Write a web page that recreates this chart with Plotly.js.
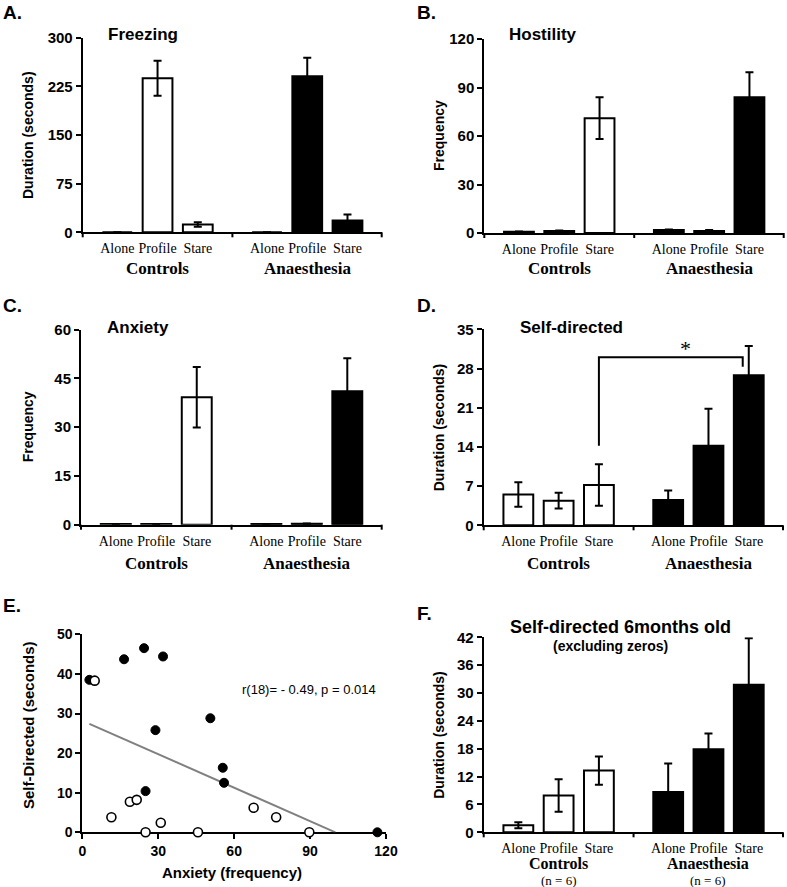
<!DOCTYPE html>
<html><head><meta charset="utf-8">
<script src="https://cdn.plot.ly/plotly-3.0.1.min.js"></script>
<style>html,body{margin:0;padding:0;background:#fff}#chart{width:787px;height:887px}</style>
</head><body><div id="chart"></div>
<script>
// ---------- data ----------
const categories = ['Alone', 'Profile', 'Stare'];
const groups = ['Controls', 'Anaesthesia'];

const freezeControls = [0, 237.5, 12];
const freezeControlsErr = [0, 27, 3.5];
const freezeAnaesthesia = [0, 240.5, 18];
const freezeAnaesthesiaErr = [0, 28.5, 9.5];

const hostilityControls = [0.8, 1.3, 71];
const hostilityControlsErr = [0.2, 0.3, 12.9];
const hostilityAnaesthesia = [1.8, 1.3, 84];
const hostilityAnaesthesiaErr = [0.3, 0.5, 15.5];

const anxietyControls = [0.2, 0.2, 39.2];
const anxietyControlsErr = [0, 0, 9.3];
const anxietyAnaesthesia = [0.2, 0.3, 41.1];
const anxietyAnaesthesiaErr = [0, 0.1, 10.1];

const selfControls = [5.5, 4.4, 7.2];
const selfControlsErr = [2.2, 1.4, 3.7];
const selfAnaesthesia = [4.5, 14.2, 26.8];
const selfAnaesthesiaErr = [1.7, 6.6, 5.2];

const self6Controls = [1.5, 7.9, 13.3];
const self6ControlsErr = [0.65, 3.5, 3.05];
const self6Anaesthesia = [8.7, 17.9, 31.8];
const self6AnaesthesiaErr = [6.1, 3.4, 10.0];

const anxietyFilled = [2.8, 16.5, 24.4, 31.9, 28.9, 50.6, 55.5, 56.0, 25.0, 116.6];
const selfDirectedFilled = [38.5, 43.7, 46.5, 44.4, 25.8, 28.8, 16.3, 12.5, 10.4, 0];
const anxietyOpen = [4.9, 11.5, 18.8, 21.5, 25.0, 31.0, 45.7, 67.7, 76.6, 89.7];
const selfDirectedOpen = [38.3, 3.8, 7.7, 8.2, 0, 2.4, 0, 6.2, 3.8, 0];
const trendAnxiety = [2.8, 100];
const trendSelfDirected = [27.4, 0];

// ---------- layout helpers ----------
const W = 787, H = 887;
const px = x => x / W;
const py = y => 1 - y / H;
const SANS = 'Liberation Sans, Arial, sans-serif';
const SERIF = 'Liberation Serif, Times New Roman, serif';
const GAP = 1.72;
const posCtrl = categories.map((c, i) => i);
const posAnae = categories.map((c, i) => i + 2 + GAP);
const XR = [-0.86, 6.57];
const divider = (2 + 2 + GAP) / 2;

const panels = [
  {id: '', x: [82.7, 381.7], y: [37.7, 232.3], max: 300, dt: 75, c: freezeControls, ce: freezeControlsErr, a: freezeAnaesthesia, ae: freezeAnaesthesiaErr,
   letter: 'A.', lx: 2, ly: 13, title: 'Freezing', tx: 107, ty: 35, ytitle: 'Duration (seconds)', ytx: 28, catY: 268, gs: 17},
  {id: '2', x: [484.3, 783.7], y: [39, 233], max: 120, dt: 30, c: hostilityControls, ce: hostilityControlsErr, a: hostilityAnaesthesia, ae: hostilityAnaesthesiaErr,
   letter: 'B.', lx: 416, ly: 13, title: 'Hostility', tx: 508, ty: 35, ytitle: 'Frequency', ytx: 439, catY: 268, gs: 17},
  {id: '3', x: [81, 381.7], y: [329.7, 524.7], max: 60, dt: 15, c: anxietyControls, ce: anxietyControlsErr, a: anxietyAnaesthesia, ae: anxietyAnaesthesiaErr,
   letter: 'C.', lx: 2, ly: 305, title: 'Anxiety', tx: 106, ty: 327, ytitle: 'Frequency', ytx: 28, catY: 563, gs: 17},
  {id: '4', x: [483.7, 783], y: [329.3, 525.3], max: 35, dt: 7, c: selfControls, ce: selfControlsErr, a: selfAnaesthesia, ae: selfAnaesthesiaErr,
   letter: 'D.', lx: 416, ly: 305, title: 'Self-directed', tx: 519, ty: 327, ytitle: 'Duration (seconds)', ytx: 439, catY: 563, gs: 17},
  {id: '6', x: [483.7, 783], y: [637.3, 832.3], max: 42, dt: 6, c: self6Controls, ce: self6ControlsErr, a: self6Anaesthesia, ae: self6AnaesthesiaErr,
   letter: 'F.', lx: 416, ly: 613, title: null, ytitle: 'Duration (seconds)', ytx: 439, catY: 863, gs: 16}
];

const traces = [];
const layout = {
  width: W, height: H, margin: {l: 0, r: 0, t: 0, b: 0},
  paper_bgcolor: '#fff', plot_bgcolor: 'rgba(0,0,0,0)', showlegend: false,
  font: {family: SANS, color: '#000'},
  annotations: [], shapes: []
};

function ann(text, x, y, font, extra) {
  layout.annotations.push(Object.assign({text, xref: 'paper', yref: 'paper', x: px(x), y: py(y),
    showarrow: false, font, xanchor: 'left', yanchor: 'middle', borderpad: 0}, extra || {}));
}
function vline(xp, y0, y1, w) {
  layout.shapes.push({type: 'line', xref: 'paper', yref: 'paper', x0: px(xp), x1: px(xp), y0: py(y0), y1: py(y1), line: {color: '#000', width: w || 2}});
}

panels.forEach(p => {
  const xa = 'x' + p.id, ya = 'y' + p.id;
  const err = (arr) => ({type: 'data', array: arr, visible: true, color: '#000', thickness: 2, width: 4});
  traces.push({type: 'bar', x: posCtrl, y: p.c, error_y: err(p.ce), xaxis: xa, yaxis: ya, width: 0.74,
    marker: {color: '#fff', line: {color: '#000', width: 2}}, name: groups[0]});
  traces.push({type: 'bar', x: posAnae, y: p.a, error_y: err(p.ae), xaxis: xa, yaxis: ya, width: 0.74,
    marker: {color: '#000', line: {color: '#000', width: 2}}, name: groups[1]});
  layout['xaxis' + p.id] = {domain: [px(p.x[0]), px(p.x[1])], anchor: ya, range: XR, fixedrange: true,
    tickvals: posCtrl.concat(posAnae), ticktext: categories.concat(categories), ticks: '',
    tickfont: {family: SERIF, size: 14, color: '#000'}, showline: true, linecolor: '#000', linewidth: 2,
    showgrid: false, zeroline: false, ticklabelstandoff: 2};
  layout['yaxis' + p.id] = {domain: [py(p.y[1]), py(p.y[0])], anchor: xa, range: [0, p.max], dtick: p.dt, fixedrange: true,
    ticks: 'outside', ticklen: 5, tickwidth: 2, tickcolor: '#000', showline: true, linecolor: '#000', linewidth: 2,
    showgrid: false, zeroline: false, tickfont: {family: SANS, size: 15, color: '#000', weight: 'bold'}};
  // tick marks on category axis
  const axY = p.y[1];
  [p.x[0], p.x[0] + (divider - XR[0]) / (XR[1] - XR[0]) * (p.x[1] - p.x[0]), p.x[1]].forEach(xx => vline(xx, axY, axY + 5, 2));
  // group labels
  const toPx = v => p.x[0] + (v - XR[0]) / (XR[1] - XR[0]) * (p.x[1] - p.x[0]);
  ann('<b>' + groups[0] + '</b>', toPx(1), p.catY, {family: SERIF, size: p.gs, color: '#000'}, {xanchor: 'center'});
  ann('<b>' + groups[1] + '</b>', toPx(3 + GAP), p.catY, {family: SERIF, size: p.gs, color: '#000'}, {xanchor: 'center'});
  ann('<b>' + p.letter + '</b>', p.lx, p.ly, {family: SANS, size: 19, color: '#000'});
  if (p.title) ann('<b>' + p.title + '</b>', p.tx, p.ty, {family: SANS, size: 17, color: '#000'});
  ann('<b>' + p.ytitle + '</b>', p.ytx, (p.y[0] + p.y[1]) / 2, {family: SANS, size: 14, color: '#000'}, {textangle: -90, xanchor: 'center'});
  if (p.id === '6') {
    ann('(n = 6)', toPx(1), 880, {family: SERIF, size: 13, color: '#000'}, {xanchor: 'center'});
    ann('(n = 6)', toPx(3 + GAP), 880, {family: SERIF, size: 13, color: '#000'}, {xanchor: 'center'});
  }
});

// Panel D significance bracket
layout.shapes.push({type: 'path', xref: 'x4', yref: 'y4', path: 'M 2,14.2 L 2,30 L 5.57,30 L 5.57,28.3', line: {color: '#000', width: 2}});
layout.annotations.push({text: '*', xref: 'x4', yref: 'y4', x: 4.14, y: 31.6, showarrow: false, font: {family: SERIF, size: 22, color: '#000'}, yanchor: 'middle'});

// Panel F titles
ann('<b>Self-directed 6months old</b>', 620, 627, {family: SANS, size: 18, color: '#000'}, {xanchor: 'center'});
ann('<b>(excluding zeros)</b>', 610, 646, {family: SANS, size: 14, color: '#000'}, {xanchor: 'center'});

// Panel E scatter
traces.push({type: 'scatter', mode: 'lines', x: trendAnxiety, y: trendSelfDirected, xaxis: 'x5', yaxis: 'y5',
  line: {color: '#808080', width: 2}, cliponaxis: false});
traces.push({type: 'scatter', mode: 'markers', x: anxietyFilled, y: selfDirectedFilled, xaxis: 'x5', yaxis: 'y5',
  marker: {size: 9, color: '#000', line: {color: '#000', width: 1}}, cliponaxis: false, name: 'Anaesthesia'});
traces.push({type: 'scatter', mode: 'markers', x: anxietyOpen, y: selfDirectedOpen, xaxis: 'x5', yaxis: 'y5',
  marker: {size: 9, color: '#fff', line: {color: '#000', width: 1.6}}, cliponaxis: false, name: 'Controls'});
layout.xaxis5 = {domain: [px(82.3), px(386)], anchor: 'y5', range: [0, 120], dtick: 30, fixedrange: true,
  ticks: 'outside', ticklen: 5, tickwidth: 2, tickcolor: '#000', showline: true, linecolor: '#000', linewidth: 2,
  showgrid: false, zeroline: false, layer: 'below traces', tickfont: {family: SANS, size: 14, color: '#000', weight: 'bold'}};
layout.yaxis5 = {domain: [py(832.3), py(634.3)], anchor: 'x5', range: [0, 50], dtick: 10, fixedrange: true,
  ticks: 'outside', ticklen: 5, tickwidth: 2, tickcolor: '#000', showline: true, linecolor: '#000', linewidth: 2,
  showgrid: false, zeroline: false, layer: 'below traces', tickfont: {family: SANS, size: 14, color: '#000', weight: 'bold'}};
ann('<b>E.</b>', 2, 605, {family: SANS, size: 19, color: '#000'});
ann('r(18)= - 0.49, p = 0.014', 241, 689, {family: SANS, size: 13, color: '#000'});
ann('<b>Self-Directed (seconds)</b>', 28, 725, {family: SANS, size: 15, color: '#000'}, {textangle: -90, xanchor: 'center'});
ann('<b>Anxiety (frequency)</b>', 232, 872, {family: SANS, size: 15, color: '#000'}, {xanchor: 'center'});

Plotly.newPlot('chart', traces, layout, {staticPlot: true, displayModeBar: false});
</script></body></html>
